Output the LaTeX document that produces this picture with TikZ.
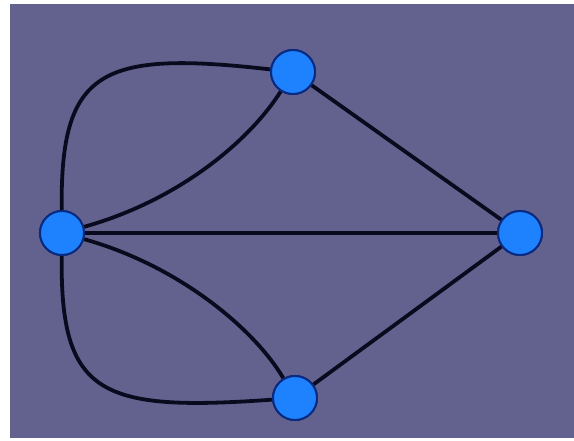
\documentclass[tikz,border=0pt]{standalone}
\definecolor{bgpurple}{HTML}{63628F}
\definecolor{nodefill}{HTML}{1E82FF}
\definecolor{nodeedge}{HTML}{0A2A80}
\definecolor{edgecol}{HTML}{0A0A1E}
\begin{document}
\begin{tikzpicture}[x=1pt,y=-1pt,
  vertex/.style={circle,fill=nodefill,draw=nodeedge,line width=2pt,minimum size=44pt,inner sep=0pt},
  edge/.style={draw=edgecol,line width=3.8pt}]
\useasboundingbox (0,0) rectangle (574,441);
\fill[white] (0,0) rectangle (574,441);
\fill[bgpurple] (10,4) rectangle (574,438);
\node[vertex] (L) at (62,233) {};
\node[vertex] (T) at (293,72) {};
\node[vertex] (R) at (520,233) {};
\node[vertex] (B) at (295,398) {};
\path[edge] (L) .. controls (60,70) and (100,50) .. (T);
\path[edge] (L) .. controls (180,200) and (250,140) .. (T);
\path[edge] (L) -- (R);
\path[edge] (T) -- (R);
\path[edge] (B) -- (R);
\path[edge] (L) .. controls (180,266) and (255,330) .. (B);
\path[edge] (L) .. controls (60,395) and (100,412) .. (B);
\node[vertex] at (L) {};
\node[vertex] at (T) {};
\node[vertex] at (R) {};
\node[vertex] at (B) {};
\end{tikzpicture}
\end{document}
